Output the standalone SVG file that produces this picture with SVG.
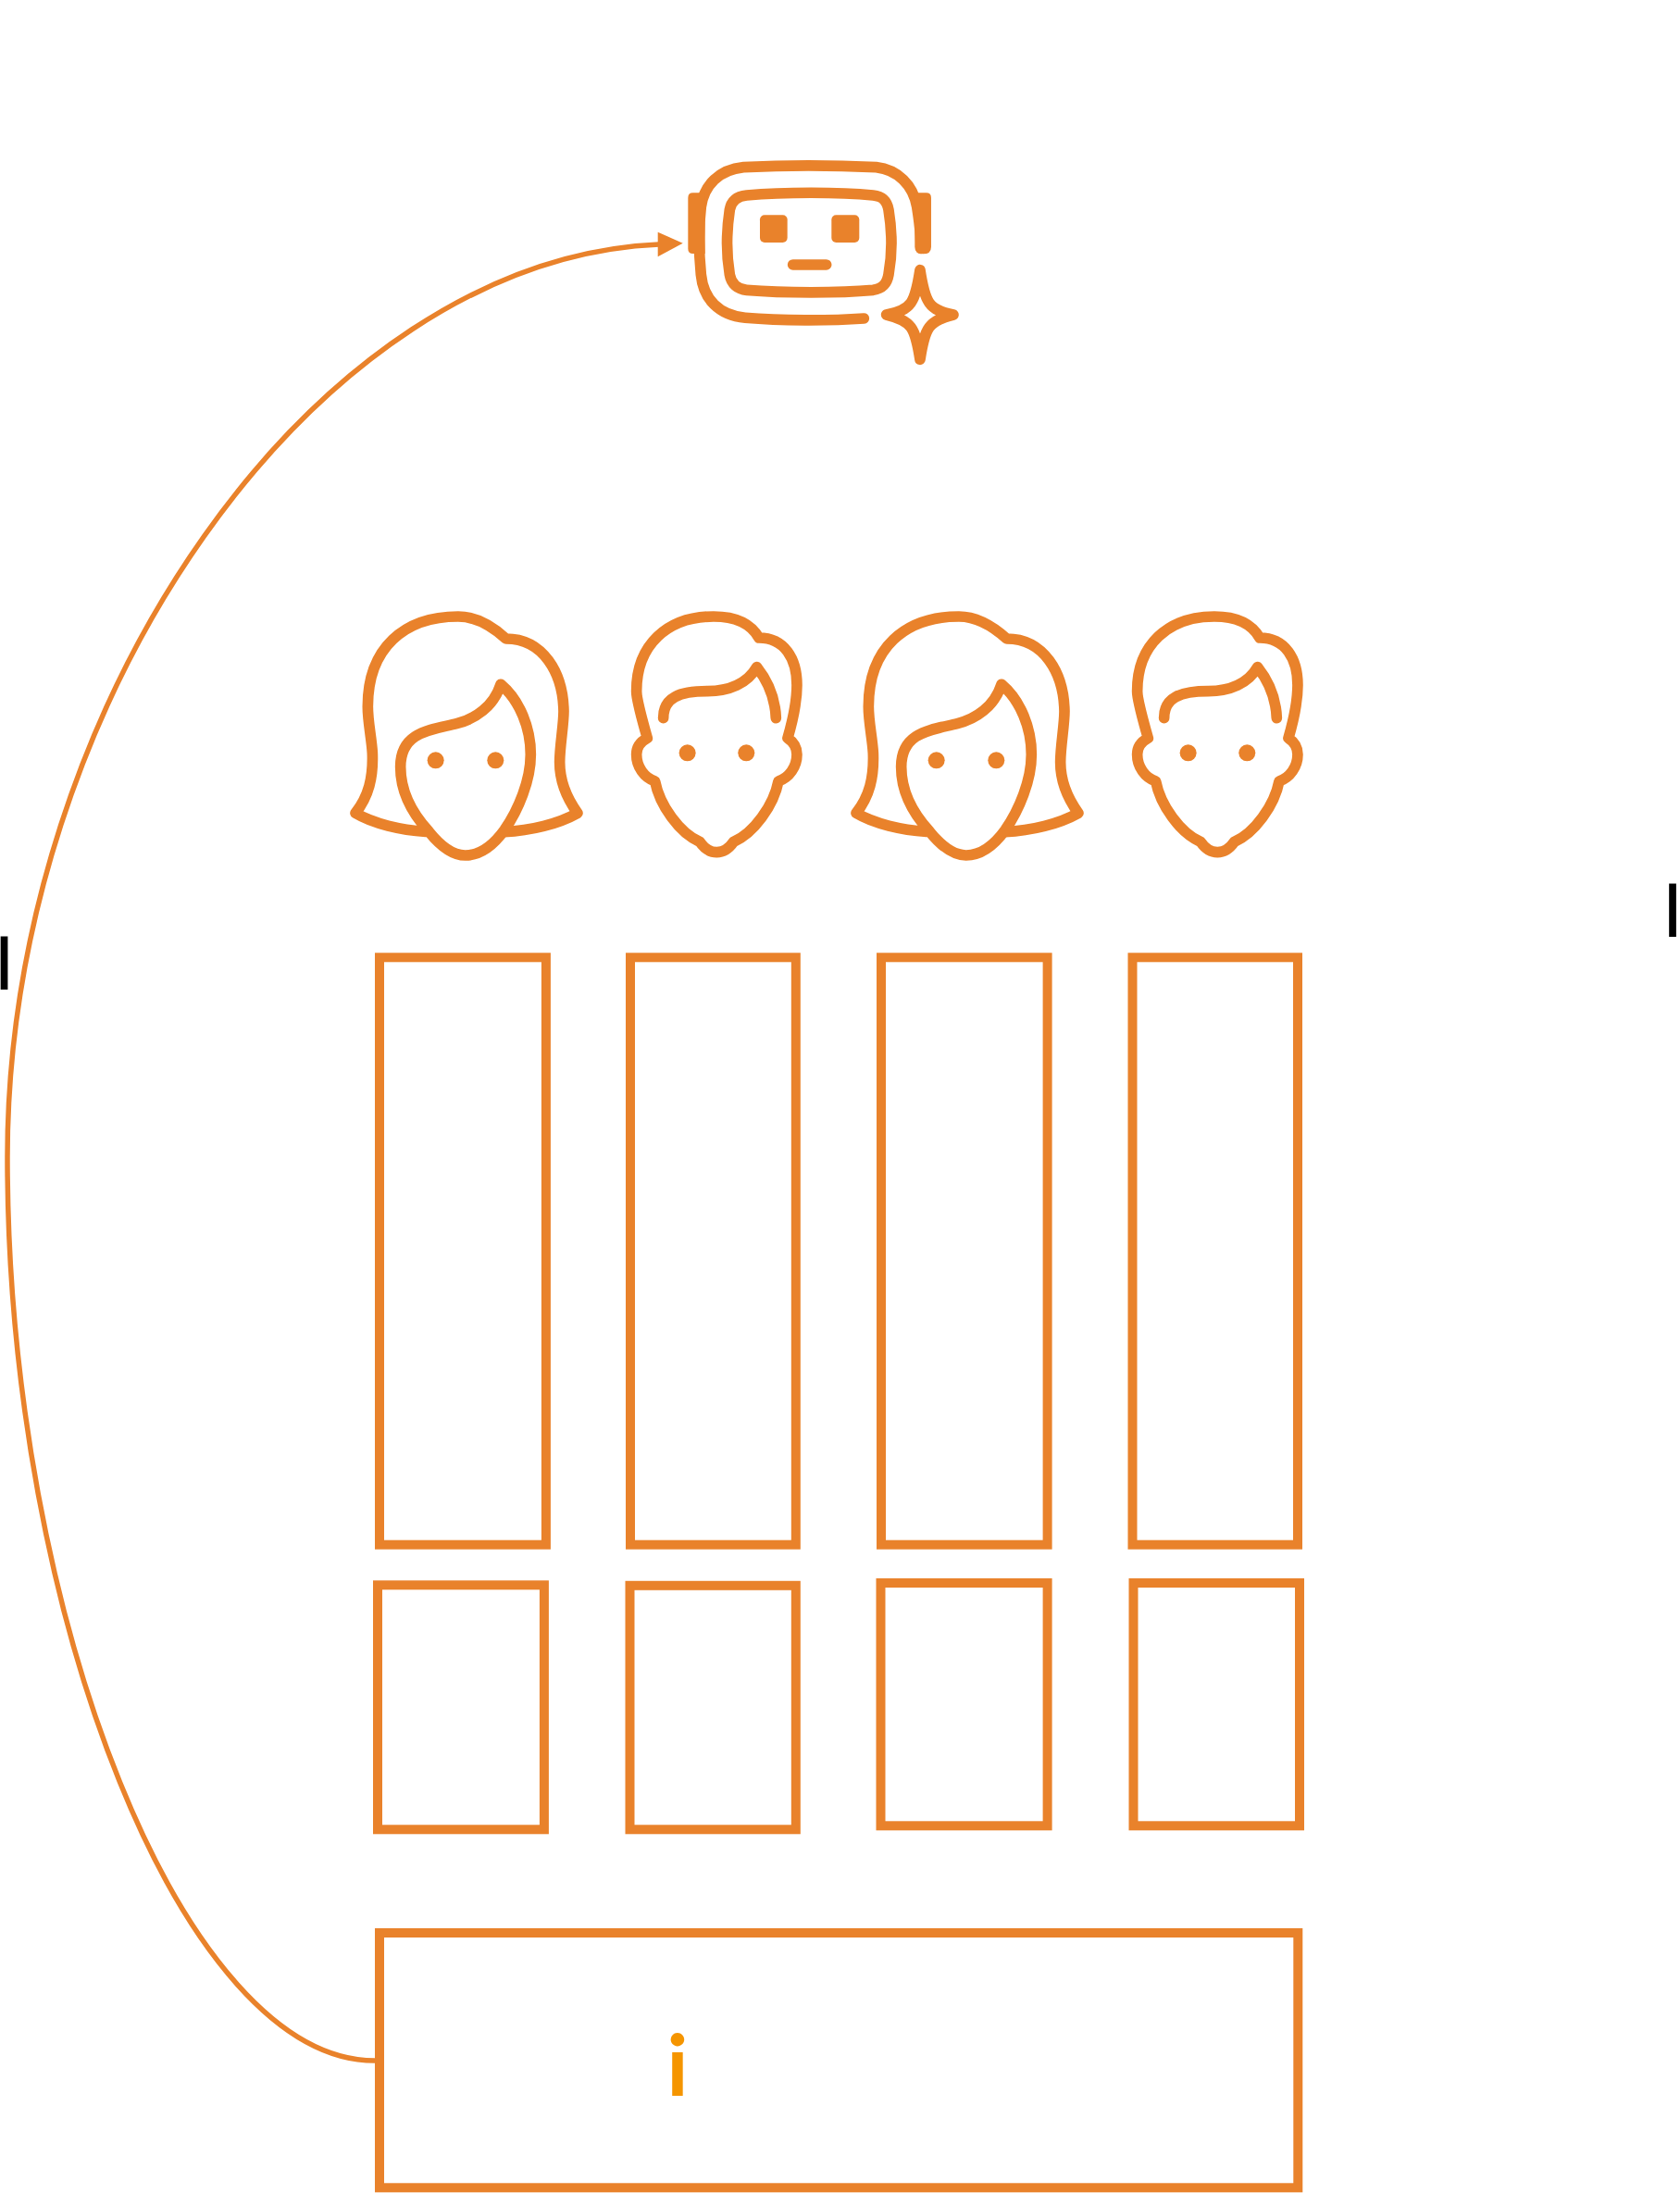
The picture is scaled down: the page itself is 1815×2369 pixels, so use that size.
<svg xmlns="http://www.w3.org/2000/svg" width="1815" height="2369" viewBox="0 0 1815 2369">
<style>
.box{fill:none;stroke:#e9822b;stroke-width:10}
.ln{fill:none;stroke:#e9822b;stroke-linecap:round;stroke-linejoin:round}
.fl{fill:#e9822b}
.bar{font-family:"Liberation Sans",Arial,sans-serif;font-size:83px;fill:#000;text-anchor:middle}
.info{font-family:Lato,sans-serif;font-weight:700;font-size:92px;fill:#f59500;text-anchor:middle}
</style>
<defs>
<g id="woman">
<path class="ln" stroke-width="35" d="M270 775C190 770 100 750 42 715C85 660 100 600 97 520C94 470 82 420 82 370C82 180 200 78 375 78C430 78 480 105 530 150C650 150 715 260 717 385C717 430 704 500 704 550C704 610 722 660 762 715C700 750 610 772 525 776"/>
<path class="ln" stroke-width="35" d="M513 298C490 370 430 410 370 425C290 445 188 450 188 565C188 640 220 710 280 775C320 825 360 852 398 852C440 852 485 825 525 770C570 705 610 610 610 525C610 440 575 350 513 298Z"/>
<circle class="fl" cx="302" cy="544" r="27"/><circle class="fl" cx="496" cy="544" r="27"/>
</g>
<g id="man">
<path class="ln" stroke-width="35" d="M985 472C965 400 950 350 950 320C950 170 1050 78 1200 78C1270 78 1320 100 1347 147C1430 147 1470 215 1470 300C1470 350 1458 410 1440 472C1460 485 1470 505 1470 525C1470 565 1445 600 1410 612C1395 690 1330 780 1265 808C1250 830 1230 842 1210 842C1190 842 1170 830 1155 808C1090 780 1025 690 1010 612C975 600 950 565 950 525C950 505 960 485 985 472Z"/>
<path class="ln" stroke-width="35" d="M1037 407C1037 340 1090 320 1180 320C1250 320 1310 295 1340 242C1378 290 1400 350 1402 407"/>
<circle class="fl" cx="1115" cy="520" r="27"/><circle class="fl" cx="1306" cy="520" r="27"/>
</g>
</defs>
<rect width="1815" height="2369" fill="#fff"/>
<g id="connectors">
<path fill="none" stroke="#e9822b" stroke-width="5.5" d="M405 2226C200 2226 8 1750 8 1250C8 760 340 280 712 264"/>
<path class="fl" d="M710.7 250.7L737.7 262.7L710.7 277.3Z"/>
</g>
<g id="bot" transform="translate(720 150) scale(.3333)">
<path class="ln" stroke-width="35" d="M640 582C530 590 370 590 255 580C170 572 120 520 112 440C105 370 105 280 112 220C122 150 170 100 250 92C380 85 540 85 680 92C750 100 800 150 812 220C820 270 825 310 825 355"/>
<path class="ln" stroke-width="35" d="M260 183C380 172 560 172 670 183C700 186 715 200 720 230C733 310 733 370 720 440C715 470 700 485 670 490C560 500 380 500 260 490C230 487 210 470 205 440C193 370 193 310 205 230C210 200 230 186 260 183Z"/>
<path class="fl" d="M125 175H86Q70 175 70 191V356Q70 372 86 372H125Z"/>
<path class="fl" d="M805 175H842Q858 175 858 191V350Q858 373 832 373Q805 373 805 350Z"/>
<rect class="fl" x="303" y="247" width="89" height="89" rx="15"/>
<rect class="fl" x="535" y="247" width="90" height="89" rx="15"/>
<path class="ln" stroke-width="35" d="M410 408H518"/>
<path class="ln" stroke-width="35" d="M822 425C838 530 850 555 930 570C850 590 838 610 822 715C806 610 795 590 713 570C795 555 806 530 822 425Z"/>
</g>
<g id="person-1" transform="translate(370 640) scale(.3333)"><use href="#woman"/></g>
<g id="person-2" transform="translate(371 640) scale(.3333)"><use href="#man"/></g>
<g id="person-3" transform="translate(911 640) scale(.3333)"><use href="#woman"/></g>
<g id="person-4" transform="translate(912 640) scale(.3333)"><use href="#man"/></g>
<g id="box-1"><rect class="box" x="410" y="1034.3" width="179.9" height="634.4"/></g>
<g id="box-2"><rect class="box" x="681" y="1034.3" width="178.8" height="634.4"/></g>
<g id="box-3"><rect class="box" x="952" y="1034.3" width="179.6" height="634.4"/></g>
<g id="box-4"><rect class="box" x="1223.5" y="1034.3" width="178.5" height="634.4"/></g>
<g id="box-5"><rect class="box" x="408" y="1712.3" width="179.9" height="264"/></g>
<g id="box-6"><rect class="box" x="680.5" y="1712.8" width="179.3" height="263.5"/></g>
<g id="box-7"><rect class="box" x="951.5" y="1710" width="180.1" height="262.3"/></g>
<g id="box-8"><rect class="box" x="1224.5" y="1710" width="179.5" height="262.3"/></g>
<g id="box-9"><rect class="box" x="410" y="2088" width="992.3" height="275.3"/>
<text class="info" x="732" y="2263.5">i</text></g>
<text class="bar" x="4.5" y="1068.7">I</text>
<text class="bar" x="1807" y="1011.7">I</text>
</svg>
